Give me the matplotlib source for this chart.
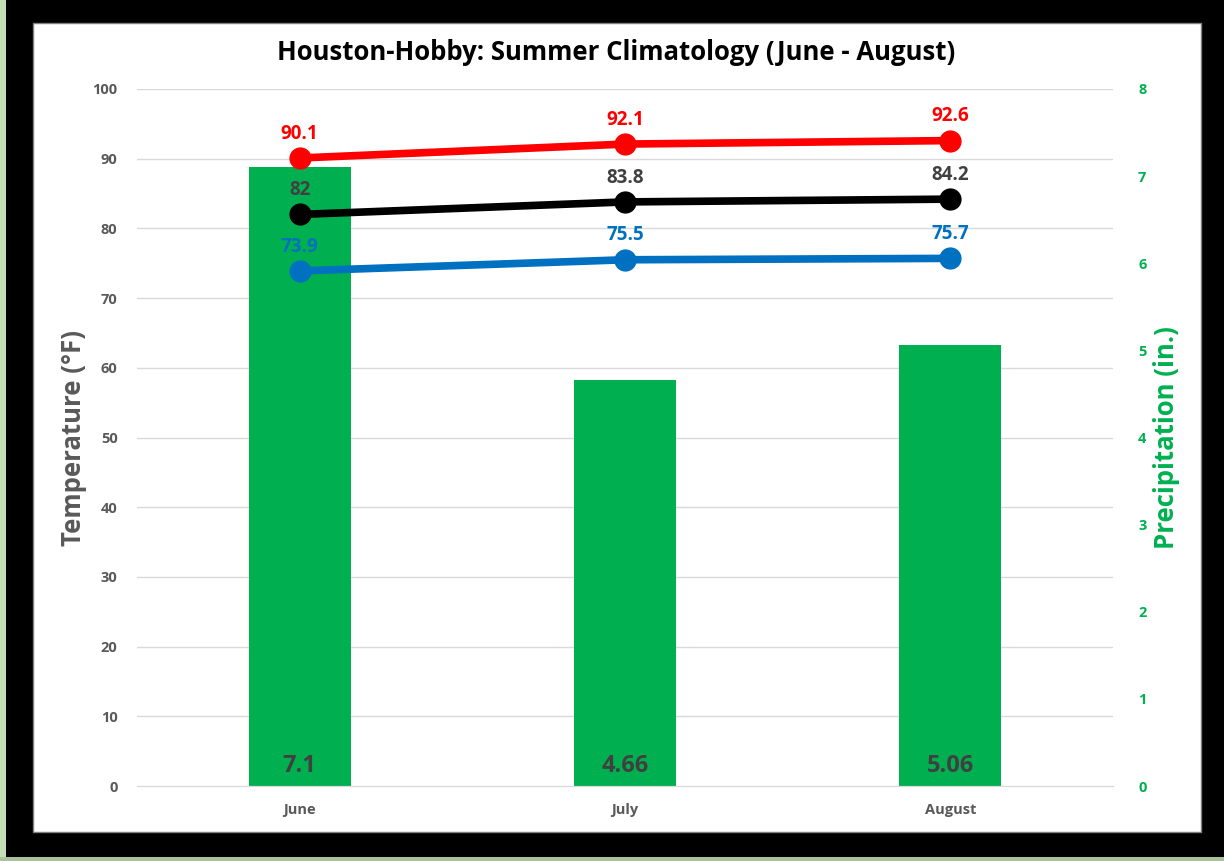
import matplotlib
matplotlib.use("Agg")
import matplotlib.pyplot as plt
from matplotlib.patches import Rectangle

months = ["June", "July", "August"]
precip = [7.1, 4.66, 5.06]
t_max = [90.1, 92.1, 92.6]
t_avg = [82, 83.8, 84.2]
t_min = [73.9, 75.5, 75.7]
temp_ticks = [0, 10, 20, 30, 40, 50, 60, 70, 80, 90, 100]
precip_ticks = [0, 1, 2, 3, 4, 5, 6, 7, 8]

plt.rcParams['font.family'] = ['Open Sans', 'DejaVu Sans']

W, H = 1224, 861
fig = plt.figure(figsize=(W / 100, H / 100), dpi=100, facecolor='black')

# outer frame pieces
fig.patches.append(Rectangle((0, 0), 6 / W, 1, transform=fig.transFigure,
                             facecolor='#c5e0b4', edgecolor='none', zorder=-2))
fig.patches.append(Rectangle((0, 0), 1, 4 / H, transform=fig.transFigure,
                             facecolor='#a9c29b', edgecolor='none', zorder=-2))
fig.patches.append(Rectangle((33 / W, (H - 832) / H), (1201 - 33) / W, (832 - 23) / H,
                             transform=fig.transFigure, facecolor='white',
                             edgecolor='#7f7f7f', linewidth=1, zorder=-1))

ax = fig.add_axes([137 / W, (H - 786) / H, (1113 - 137) / W, (786 - 89) / H])
ax.set_facecolor('none')
ax2 = ax.twinx()
ax2.patch.set_visible(False)

x = list(range(len(months)))

# bars on the secondary axis
ax2.set_ylim(0, 8)
for t in temp_ticks[1:]:
    ax2.axhline(t * 8 / 100, color='#d9d9d9', linewidth=1, zorder=0)
ax2.bar(x, precip, width=0.314, color='#00b050', zorder=1)
for xi, v in zip(x, precip):
    ax2.text(xi, 0.23, f"{v:g}", ha='center', va='center', fontsize=17,
             fontweight='bold', color='#404040', zorder=3)
ax2.set_yticks(precip_ticks)
ax2.tick_params(axis='y', length=0, pad=18, labelsize=10.5, labelcolor='#00b050')
for lab in ax2.get_yticklabels():
    lab.set_fontweight('bold')
ax2.set_ylabel("Precipitation (in.)", fontsize=18.5, fontweight='bold',
               color='#00b050', labelpad=5)

# lines on the primary axis, drawn above bars
ax.set_zorder(ax2.get_zorder() + 1)
series = [(t_max, '#ff0000', '#ff0000'), (t_avg, '#000000', '#404040'),
          (t_min, '#0070c0', '#0070c0')]
for vals, c, lc in series:
    ax.plot(x, vals, color=c, linewidth=5.5, marker='o', markersize=15,
            solid_capstyle='round', zorder=3)
    for xi, v in zip(x, vals):
        ax.annotate(f"{v:g}", (xi, v), xytext=(0, 17.5), textcoords='offset points',
                    ha='center', va='center', fontsize=13.5, fontweight='bold',
                    color=lc, zorder=4)

ax.set_xlim(-0.5, 2.5)
ax.set_ylim(0, 100)
ax.set_yticks(temp_ticks)
ax.set_xticks(x)
ax.set_xticklabels(months)
ax.tick_params(axis='y', length=0, pad=14, labelsize=10.5, labelcolor='#595959')
ax.tick_params(axis='x', length=0, pad=12, labelsize=10.5, labelcolor='#595959')
for lab in ax.get_yticklabels() + ax.get_xticklabels():
    lab.set_fontweight('bold')
ax.grid(False)
for a in (ax, ax2):
    for s in ['top', 'right', 'left']:
        a.spines[s].set_visible(False)
    a.spines['bottom'].set_color('#d9d9d9')
ax.set_ylabel("Temperature (°F)", fontsize=18.5, fontweight='bold',
              color='#595959', labelpad=4)

fig.text((275 + 957) / 2 / W, 1 - 52 / H, "Houston-Hobby: Summer Climatology (June - August)",
         ha='center', va='center', fontsize=18.5, fontweight='bold', color='black')

fig.savefig("out.png", dpi=100, facecolor='black')
